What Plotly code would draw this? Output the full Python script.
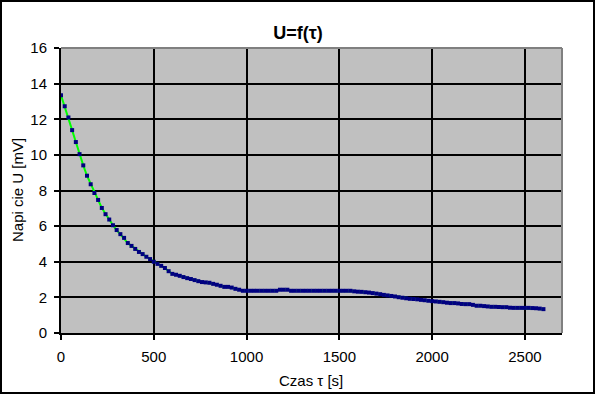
import plotly.graph_objects as go

# time [s]
t_values = list(range(0, 2601, 20))

# voltage [mV]
u_values = [
    13.35, 12.73, 12.10, 11.39, 10.72, 10.04, 9.41, 8.83, 8.35, 7.86,   # 0-180
    7.47, 7.02, 6.67, 6.37, 6.05, 5.78, 5.55, 5.34, 5.05, 4.89,          # 200-380
    4.72, 4.55, 4.43, 4.28, 4.15, 4.00, 3.88, 3.77, 3.65, 3.47,          # 400-580
    3.32, 3.27, 3.21, 3.14, 3.08, 3.03, 2.97, 2.91, 2.86, 2.84,          # 600-780
    2.82, 2.76, 2.71, 2.65, 2.59, 2.59, 2.55, 2.48, 2.43, 2.37,          # 800-980
    2.37, 2.37, 2.37, 2.37, 2.37, 2.37, 2.37, 2.37, 2.37, 2.43,          # 1000-1180
    2.43, 2.43, 2.37, 2.37, 2.37, 2.37, 2.37, 2.37, 2.37, 2.37,          # 1200-1380
    2.37, 2.37, 2.37, 2.37, 2.37, 2.37, 2.37, 2.37, 2.37, 2.34,          # 1400-1580
    2.32, 2.31, 2.29, 2.27, 2.24, 2.21, 2.18, 2.14, 2.11, 2.08,          # 1600-1780
    2.05, 2.01, 1.98, 1.95, 1.92, 1.91, 1.89, 1.86, 1.84, 1.81,          # 1800-1980
    1.79, 1.77, 1.75, 1.73, 1.70, 1.68, 1.68, 1.66, 1.63, 1.62,          # 2000-2180
    1.62, 1.58, 1.53, 1.53, 1.51, 1.49, 1.47, 1.47, 1.46, 1.45,          # 2200-2380
    1.45, 1.42, 1.41, 1.41, 1.41, 1.41, 1.41, 1.40, 1.39, 1.37,          # 2400-2580
    1.34,                                                                # 2600
]

x_ticks = [0, 500, 1000, 1500, 2000, 2500]
y_ticks = [0, 2, 4, 6, 8, 10, 12, 14, 16]

fig = go.Figure()
fig.add_trace(go.Scatter(
    x=t_values, y=u_values, mode="lines+markers",
    line=dict(color="#00FF00", width=2),
    marker=dict(symbol="square", size=4, color="#000080",
                line=dict(width=0)),
    showlegend=False,
))

W, H = 596, 395
L, R, T, B = 61, 34, 48, 62
pw, ph = W - L - R, H - T - B

def px_to_paper_x(px):
    return (px - L) / pw

def px_to_paper_y(py):
    return 1 - (py - T) / ph

font = "Liberation Sans, Arial, sans-serif"

fig.update_layout(
    width=W, height=H,
    margin=dict(l=L, r=R, t=T, b=B, pad=0),
    paper_bgcolor="white",
    plot_bgcolor="#C0C0C0",
    font=dict(family=font, size=15, color="black"),
    title=dict(text="<b>U=f(τ)</b>", x=0.5, xref="container", xanchor="center",
               y=1 - 33 / H, yref="container", yanchor="middle",
               font=dict(size=18, family=font, color="black")),
    xaxis=dict(
        range=[0, 2700], tickvals=x_ticks, ticktext=[str(v) for v in x_ticks],
        showgrid=True, gridcolor="black", gridwidth=2,
        showline=True, linecolor="black", linewidth=2,
        ticks="outside", ticklen=5, tickwidth=2, tickcolor="black",
        zeroline=False, mirror=False, automargin=False,
        ticklabelstandoff=4,
        tickfont=dict(size=15),
    ),
    yaxis=dict(
        range=[0, 16], tickvals=y_ticks, ticktext=[str(v) for v in y_ticks],
        showgrid=True, gridcolor="black", gridwidth=2,
        showline=True, linecolor="black", linewidth=2,
        ticks="outside", ticklen=5, tickwidth=2, tickcolor="black",
        zeroline=False, mirror=False, automargin=False,
        ticklabelstandoff=4,
        tickfont=dict(size=15),
    ),
    annotations=[
        dict(text="Czas τ [s]", xref="paper", yref="paper",
             x=px_to_paper_x(311), y=px_to_paper_y(380),
             xanchor="center", yanchor="middle", showarrow=False,
             font=dict(size=15)),
        dict(text="Napi cie U [mV]", xref="paper", yref="paper",
             x=px_to_paper_x(17), y=px_to_paper_y(190), textangle=-90,
             xanchor="center", yanchor="middle", showarrow=False,
             font=dict(size=15)),
    ],
    shapes=[
        # gray border on top and right of plot area
        dict(type="line", xref="paper", yref="paper", x0=0, x1=1, y0=1, y1=1,
             line=dict(color="#808080", width=2)),
        dict(type="line", xref="paper", yref="paper", x0=1, x1=1, y0=0, y1=1,
             line=dict(color="#808080", width=2)),
        # outer chart border
        dict(type="rect", xref="paper", yref="paper",
             x0=px_to_paper_x(1), x1=px_to_paper_x(W - 2),
             y0=px_to_paper_y(H - 2), y1=px_to_paper_y(1),
             line=dict(color="black", width=2), layer="above"),
    ],
)

fig.write_html(
    "out.html",
    config={"displayModeBar": False},
    post_script="document.body.style.margin='0';document.body.style.overflow='hidden';",
)
